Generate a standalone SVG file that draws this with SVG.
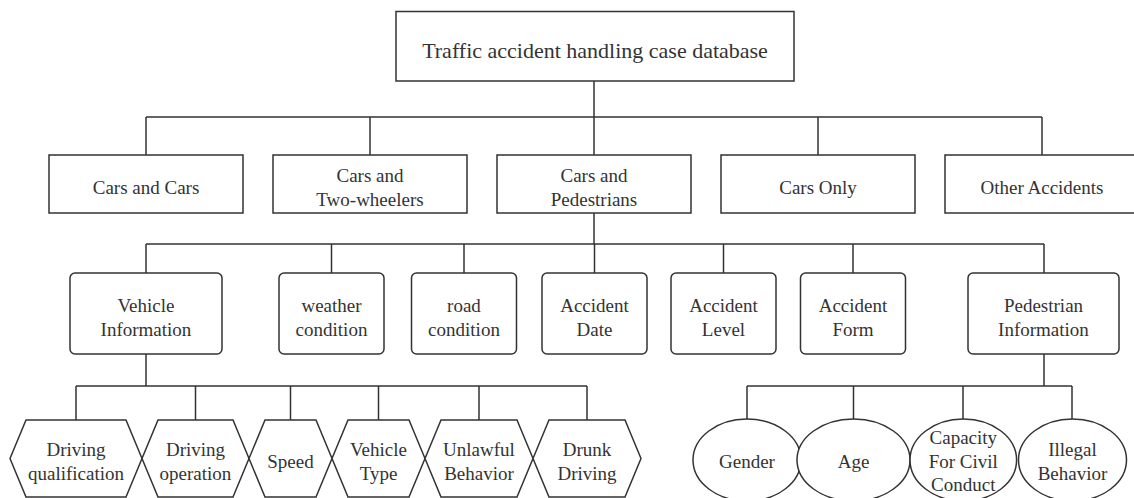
<svg xmlns="http://www.w3.org/2000/svg" width="1134" height="498" viewBox="0 0 1134 498">
<style>
.box{fill:#fff;stroke:#333;stroke-width:1.5}
.conn{fill:none;stroke:#333;stroke-width:1.5}
text{font-size:19px;fill:#333;text-anchor:middle}
.title{font-size:22px}
</style>
<rect width="1134" height="498" fill="#fff"/>
<g id="connectors" class="conn">
<path d="M594 81V117M146 117H1042M146 117V155M370 117V155M594 117V155M818 117V155M1042 117V155"/>
<path d="M594 213V244M146 244H1044M146 244V273M331.5 244V273M464 244V273M594.5 244V273M723.5 244V273M853 244V273M1044 244V273"/>
<path d="M146 354V386M76 386H587M76 386V420M195.5 386V420M290.5 386V420M378.5 386V420M479 386V420M587 386V420"/>
<path d="M1044 354V386M747 386H1072M747 386V419M853.5 386V419M963 386V419M1072 386V419"/>
</g>
<g font-family="Liberation Serif, Times New Roman, DejaVu Serif, serif">
<g id="root"><rect class="box" x="396" y="11.5" width="398" height="69.5"/><text class="title" x="595" y="57.5">Traffic accident handling case database</text></g>
<g id="cars-cars"><rect class="box" x="49" y="155" width="194" height="58"/><text x="146" y="194">Cars and Cars</text></g>
<g id="cars-two-wheelers"><rect class="box" x="273" y="155" width="194" height="58"/><text x="370" y="182">Cars and</text><text x="370" y="206">Two-wheelers</text></g>
<g id="cars-pedestrians"><rect class="box" x="497" y="155" width="194" height="58"/><text x="594" y="182">Cars and</text><text x="594" y="206">Pedestrians</text></g>
<g id="cars-only"><rect class="box" x="721" y="155" width="194" height="58"/><text x="818" y="194">Cars Only</text></g>
<g id="other-accidents"><rect class="box" x="945" y="155" width="194" height="58"/><text x="1042" y="194">Other Accidents</text></g>
<g id="vehicle-information"><rect class="box" x="70" y="273" width="152" height="81" rx="5"/><text x="146" y="312">Vehicle</text><text x="146" y="336">Information</text></g>
<g id="weather-condition"><rect class="box" x="279" y="273" width="105" height="81" rx="5"/><text x="331.5" y="312">weather</text><text x="331.5" y="336">condition</text></g>
<g id="road-condition"><rect class="box" x="411.5" y="273" width="105" height="81" rx="5"/><text x="464" y="312">road</text><text x="464" y="336">condition</text></g>
<g id="accident-date"><rect class="box" x="542" y="273" width="105" height="81" rx="5"/><text x="594.5" y="312">Accident</text><text x="594.5" y="336">Date</text></g>
<g id="accident-level"><rect class="box" x="671" y="273" width="105" height="81" rx="5"/><text x="723.5" y="312">Accident</text><text x="723.5" y="336">Level</text></g>
<g id="accident-form"><rect class="box" x="800.5" y="273" width="105" height="81" rx="5"/><text x="853" y="312">Accident</text><text x="853" y="336">Form</text></g>
<g id="pedestrian-information"><rect class="box" x="968" y="273" width="151" height="81" rx="5"/><text x="1043.5" y="312">Pedestrian</text><text x="1043.5" y="336">Information</text></g>
<g id="driving-qualification"><polygon class="box" points="10,458.5 26,420 126,420 142,458.5 126,497 26,497"/><text x="76" y="456">Driving</text><text x="76" y="480">qualification</text></g>
<g id="driving-operation"><polygon class="box" points="142,458.5 158,420 233,420 249,458.5 233,497 158,497"/><text x="195.5" y="456">Driving</text><text x="195.5" y="480">operation</text></g>
<g id="speed"><polygon class="box" points="249,458.5 265,420 316,420 332,458.5 316,497 265,497"/><text x="290.5" y="468">Speed</text></g>
<g id="vehicle-type"><polygon class="box" points="332,458.5 348,420 409,420 425,458.5 409,497 348,497"/><text x="378.5" y="456">Vehicle</text><text x="378.5" y="480">Type</text></g>
<g id="unlawful-behavior"><polygon class="box" points="425,458.5 441,420 517,420 533,458.5 517,497 441,497"/><text x="479" y="456">Unlawful</text><text x="479" y="480">Behavior</text></g>
<g id="drunk-driving"><polygon class="box" points="533,458.5 549,420 625,420 641,458.5 625,497 549,497"/><text x="587" y="456">Drunk</text><text x="587" y="480">Driving</text></g>
<g id="gender"><ellipse class="box" cx="747" cy="460" rx="54" ry="41"/><text x="747" y="468">Gender</text></g>
<g id="age"><ellipse class="box" cx="853.5" cy="460" rx="56.5" ry="41"/><text x="853.5" y="468">Age</text></g>
<g id="capacity"><ellipse class="box" cx="963.3" cy="460" rx="53.3" ry="41"/><text x="963.3" y="444">Capacity</text><text x="963.3" y="467.5">For Civil</text><text x="963.3" y="491">Conduct</text></g>
<g id="illegal-behavior"><ellipse class="box" cx="1072.5" cy="460" rx="54" ry="41"/><text x="1072.5" y="456">Illegal</text><text x="1072.5" y="480">Behavior</text></g>
</g>
</svg>
